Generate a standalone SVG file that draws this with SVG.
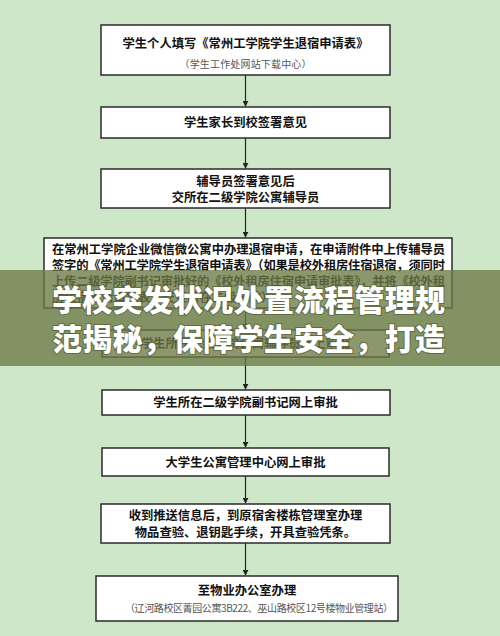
<svg xmlns="http://www.w3.org/2000/svg" width="500" height="636" viewBox="0 0 500 636">
<style>
.box{fill:#fff;stroke:#2b2b2b;stroke-width:1.5}
.t{font-family:"Noto Sans CJK SC","Noto Sans",sans-serif;font-size:12.3px;font-weight:700;fill:#111}
.c{text-anchor:middle}
.s{font-family:"Noto Sans CJK SC","Noto Sans",sans-serif;font-size:10px;fill:#555;text-anchor:middle}
.ln{stroke:#222;stroke-width:1.2;fill:none;marker-end:url(#ah)}
.ban{font-family:"Noto Sans CJK SC","Noto Sans",sans-serif;font-size:30px;font-weight:900;fill:#fff;stroke:#4a5230;stroke-width:2;paint-order:stroke;stroke-opacity:0.6}
</style>
<defs>
<marker id="ah" viewBox="0 0 8 8" refX="7" refY="4" markerWidth="6" markerHeight="6" orient="auto" markerUnits="userSpaceOnUse">
<path d="M0,0 L8,4 L0,8 z" fill="#222"/>
</marker>
</defs>
<rect x="0" y="0" width="500" height="636" fill="#cfe7c9"/>
<g id="connectors">
<line class="ln" x1="245.5" y1="75" x2="245.5" y2="106"/>
<line class="ln" x1="245.5" y1="138" x2="245.5" y2="168"/>
<line class="ln" x1="245.5" y1="208" x2="245.5" y2="237"/>
<line class="ln" x1="245.5" y1="308" x2="245.5" y2="329"/>
<line class="ln" x1="245.5" y1="357" x2="245.5" y2="389"/>
<line class="ln" x1="245.5" y1="415" x2="245.5" y2="447"/>
<line class="ln" x1="245.5" y1="476" x2="245.5" y2="503"/>
<line class="ln" x1="245.5" y1="543" x2="245.5" y2="575"/>
</g>
<g id="n1">
<rect class="box" x="101" y="25" width="289" height="50"/>
<text class="t c" x="245.5" y="48">学生个人填写《常州工学院学生退宿申请表》</text>
<text class="s" x="245.5" y="68" textLength="132">（学生工作处网站下载中心）</text>
</g>
<g id="n2">
<rect class="box" x="101" y="107" width="289" height="31"/>
<text class="t c" x="245.5" y="127">学生家长到校签署意见</text>
</g>
<g id="n3">
<rect class="box" x="101" y="169" width="289" height="39"/>
<text class="t c" x="245.5" y="186">辅导员签署意见后</text>
<text class="t c" x="245.5" y="202">交所在二级学院公寓辅导员</text>
</g>
<g id="n4">
<rect class="box" x="44" y="238" width="408" height="70"/>
<text class="t" x="52" y="254" textLength="393">在常州工学院企业微信微公寓中办理退宿申请，在申请附件中上传辅导员</text>
<text class="t" x="52" y="270" textLength="393">签字的《常州工学院学生退宿申请表》（如果是校外租房住宿退宿，须同时</text>
<text class="t" x="52" y="286" textLength="393">上传二级学院副书记审批好的《校外租房住宿申请审批表》，并将《校外租</text>
<text class="t" x="52" y="302">房住宿申请审批表》交至所在二级学院）</text>
</g>
<g id="n5">
<rect class="box" x="102" y="330" width="287" height="27"/>
<text class="t c" x="245.5" y="348">学生所在二级学院公寓辅导员网上审批</text>
</g>
<g id="n6">
<rect class="box" x="102" y="390" width="288" height="25"/>
<text class="t c" x="245.5" y="407">学生所在二级学院副书记网上审批</text>
</g>
<g id="n7">
<rect class="box" x="102" y="448" width="287" height="28"/>
<text class="t c" x="245.5" y="467">大学生公寓管理中心网上审批</text>
</g>
<g id="n8">
<rect class="box" x="101" y="504" width="289" height="39"/>
<text class="t c" x="245.5" y="520">收到推送信息后，到原宿舍楼栋管理室办理</text>
<text class="t c" x="245.5" y="537">物品查验、退钥匙手续，开具查验凭条。</text>
</g>
<g id="n9">
<rect class="box" x="96" y="576" width="302" height="45"/>
<text class="t c" x="247" y="595">至物业办公室办理</text>
<text class="s" x="259" y="612" textLength="268">（辽河路校区菁园公寓3B222、巫山路校区12号楼物业管理站）</text>
</g>
<g id="banner">
<rect x="0" y="270" width="500" height="96" fill="#6b7a45" fill-opacity="0.78"/>
<text class="ban" x="52" y="311" textLength="393">学校突发状况处置流程管理规</text>
<text class="ban" x="52" y="350" textLength="393">范揭秘，保障学生安全，打造</text>
</g>
</svg>
